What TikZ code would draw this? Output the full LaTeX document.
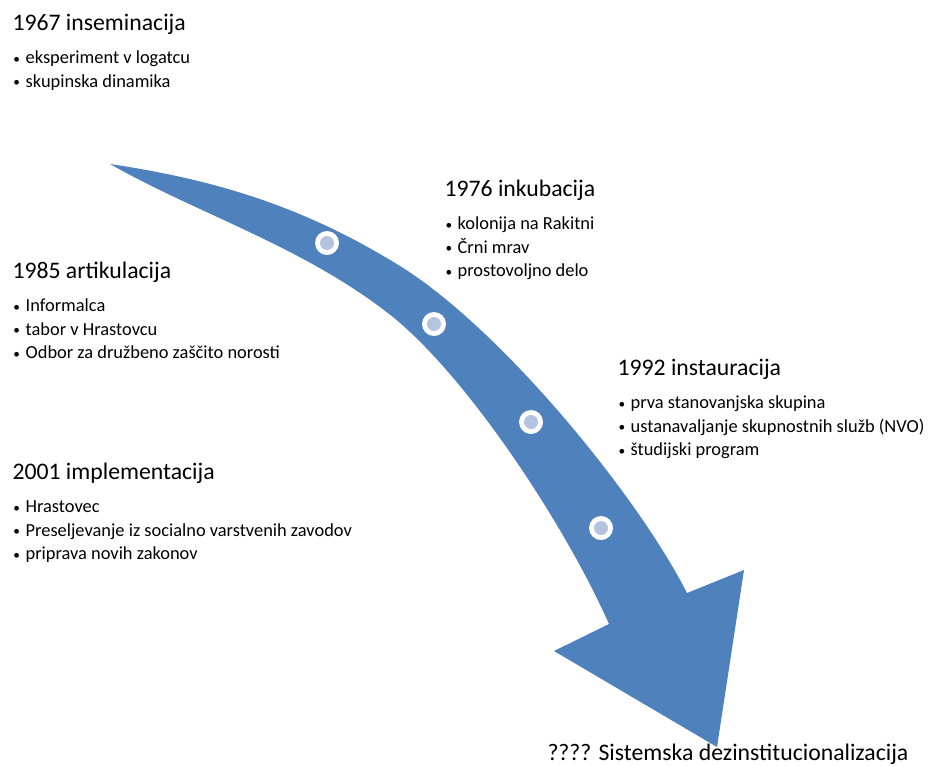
\documentclass[tikz,border=0pt]{standalone}
\usepackage{fontspec}
\setmainfont{Carlito}
\definecolor{arrowblue}{RGB}{79,129,189}
\definecolor{dotblue}{RGB}{180,196,224}
\newcommand{\pitem}{\strut\raisebox{0.6pt}{\fontsize{10}{10}\selectfont\textbullet}\hspace{0.3em}}
\tikzset{every picture/.style={line width=0.75pt}}
\tikzset{
  phasehead/.style={anchor=base west, inner sep=0pt, font=\fontsize{17.8}{21}\selectfont},
  phaselist/.style={anchor=north west, inner sep=0pt, align=left, font=\fontsize{13.8}{17.6}\selectfont},
  milestone/.style={circle, fill=white, minimum size=18pt, inner sep=0pt,
    path picture={\fill[dotblue] (path picture bounding box.center) circle (5.25pt);}},
}

\begin{document}
\begin{tikzpicture}[x=0.75pt,y=0.75pt,yscale=-1,xscale=1]
	\useasboundingbox (0,0) rectangle (935,765);

	%Shape: Curved Arrow
	\fill[arrowblue] (110,164) .. controls (210,179) and (300,204) .. (400,266) .. controls (500,328) and (636,493) .. (687,593) -- (744,570) -- (717,747) -- (554,651) -- (609,624) .. controls (566,527) and (470,380) .. (393,317) .. controls (305,247) and (200,215) .. (110,164) -- cycle ;

	%Milestones
	\node[milestone] (m1) at (327,243) {};
	\node[milestone] (m2) at (434,324) {};
	\node[milestone] (m3) at (531,422) {};
	\node[milestone] (m4) at (601,528) {};

	% Text Node
	\node[phasehead] (insem) at (12,30) {1967 inseminacija};
	\node[phaselist] (insemlist) at (13,47) {\pitem eksperiment v logatcu\\ \pitem skupinska dinamika};
	% Text Node
	\node[phasehead] (inkub) at (444,196) {1976 inkubacija};
	\node[phaselist] (inkublist) at (445,213) {\pitem kolonija na Rakitni\\ \pitem Črni mrav\\ \pitem prostovoljno delo};
	% Text Node
	\node[phasehead] (artik) at (12,278) {1985 artikulacija};
	\node[phaselist] (artiklist) at (13,295) {\pitem Informalca\\ \pitem tabor v Hrastovcu\\ \pitem Odbor za družbeno zaščito norosti};
	% Text Node
	\node[phasehead] (instaur) at (617,375) {1992 instauracija};
	\node[phaselist] (instaurlist) at (618,392) {\pitem prva stanovanjska skupina\\ \pitem ustanavaljanje skupnostnih služb (NVO)\\ \pitem študijski program};
	% Text Node
	\node[phasehead] (implem) at (12,479) {2001 implementacija};
	\node[phaselist] (implemlist) at (13,496) {\pitem Hrastovec\\ \pitem Preseljevanje iz socialno varstvenih zavodov\\ \pitem priprava novih zakonov};
	% Text Node
	\node[phasehead] (dezinst) at (547,760) {???? Sistemska dezinstitucionalizacija};

\end{tikzpicture}
\end{document}
